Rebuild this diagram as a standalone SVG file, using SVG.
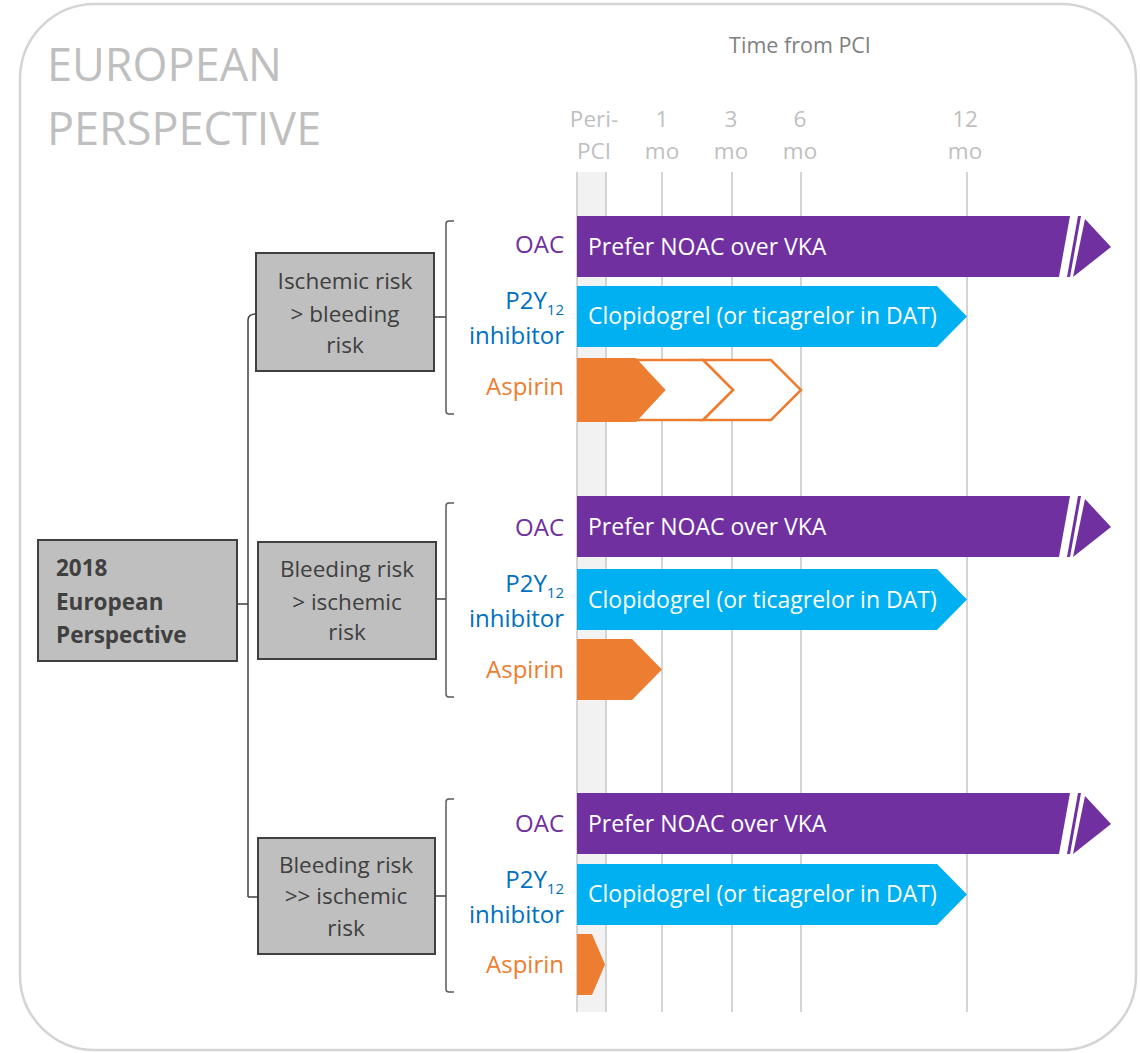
<svg xmlns="http://www.w3.org/2000/svg" width="1140" height="1053" viewBox="0 0 1140 1053">
<style>
text{font-family:"Open Sans","Liberation Sans",sans-serif}
.title{font-size:45px;fill:#bfbfbf}
.axis{font-size:22.5px;fill:#bfbfbf;text-anchor:middle}
.time{font-size:21.5px;fill:#7f7f7f;text-anchor:middle}
.grid{stroke:#c8c8c8;stroke-width:1.5;fill:none}
.box{fill:#bfbfbf;stroke:#404040;stroke-width:2}
.btxt{font-size:22.5px;fill:#404040;text-anchor:middle}
.main{font-size:22.5px;fill:#404040;font-weight:bold}
.conn{stroke:#404040;stroke-width:1.5;fill:none}
.brk{stroke:#595959;stroke-width:1.5;fill:none}
.lbl{font-size:24px;text-anchor:end}
.oac{fill:#7030A0}
.p2y{fill:#0070C0}
.asp{fill:#ED7D31}
.bartxt{font-size:23px;fill:#ffffff}
.pur{fill:#7030A0}
.blu{fill:#00B0F0}
.ora{fill:#ED7D31}
.oraline{fill:#ffffff;stroke:#ED7D31;stroke-width:2.5}
</style>
<rect x="20" y="4" width="1116" height="1046" rx="75" ry="75" fill="#ffffff" stroke="#d4d4d4" stroke-width="2.5"/>
<text class="title" x="47" y="81">EUROPEAN</text>
<text class="title" x="47" y="145">PERSPECTIVE</text>
<text class="time" x="800" y="53">Time from PCI</text>
<g id="axis">
<text class="axis" x="594" y="127">Peri-</text>
<text class="axis" x="594" y="159">PCI</text>
<text class="axis" x="662" y="127">1</text>
<text class="axis" x="662" y="159">mo</text>
<text class="axis" x="731" y="127">3</text>
<text class="axis" x="731" y="159">mo</text>
<text class="axis" x="800" y="127">6</text>
<text class="axis" x="800" y="159">mo</text>
<text class="axis" x="965" y="127">12</text>
<text class="axis" x="965" y="159">mo</text>
<rect x="577" y="172" width="29" height="840" fill="#f2f2f2"/>
<path class="grid" d="M577,172V1012M606,172V1012M662,172V1012M732,172V1012M801,172V1012M967,172V1012"/>
</g>
<g id="connectors">
<path class="conn" d="M237,604H248M248,897V320Q248,314 256,314M248,897Q248,897 258,897"/>
<path class="conn" d="M434,317H446M436,599H446M435,896H446"/>
<path class="brk" d="M454,221H449Q446,221 446,224V411Q446,414 449,414H454"/>
<path class="brk" d="M454,503H449Q446,503 446,506V694Q446,697 449,697H454"/>
<path class="brk" d="M454,799H449Q446,799 446,802V989Q446,992 449,992H454"/>
</g>
<g id="node-main">
<rect class="box" x="38" y="540" width="199" height="121"/>
<text class="main" x="56" y="576">2018</text>
<text class="main" x="56" y="610">European</text>
<text class="main" x="56" y="643">Perspective</text>
</g>
<g id="node-risk1">
<rect class="box" x="256" y="253" width="178" height="118"/>
<text class="btxt" x="345" y="289">Ischemic risk</text>
<text class="btxt" x="345" y="322">&gt; bleeding</text>
<text class="btxt" x="345" y="353">risk</text>
</g>
<g id="node-risk2">
<rect class="box" x="258" y="542" width="178" height="117"/>
<text class="btxt" x="347" y="577">Bleeding risk</text>
<text class="btxt" x="347" y="610">&gt; ischemic</text>
<text class="btxt" x="347" y="640">risk</text>
</g>
<g id="node-risk3">
<rect class="box" x="258" y="838" width="177" height="116"/>
<text class="btxt" x="346" y="873">Bleeding risk</text>
<text class="btxt" x="346" y="904">&gt;&gt; ischemic</text>
<text class="btxt" x="346" y="936">risk</text>
</g>
<g id="section1">
<text class="lbl oac" x="564" y="253">OAC</text>
<text class="lbl p2y" x="564" y="309">P2Y<tspan font-size="15" dy="6">12</tspan></text>
<text class="lbl p2y" x="564" y="344">inhibitor</text>
<text class="lbl asp" x="564" y="395">Aspirin</text>
<polygon class="pur" points="577,216 1070,216 1059,277 577,277"/>
<polygon class="pur" points="1078,216 1081,216 1070,277 1067,277"/>
<polygon class="pur" points="1085,219 1111,247 1073,277"/>
<text class="bartxt" x="588" y="255">Prefer NOAC over VKA</text>
<polygon class="blu" points="577,286 937,286 967,316.5 937,347 577,347"/>
<text class="bartxt" x="588" y="324">Clopidogrel (or ticagrelor in DAT)</text>
<polygon class="oraline" points="703,360 771,360 801,390 771,420 703,420 733,390"/>
<polygon class="oraline" points="636,360 703,360 733,390 703,420 636,420 664,390"/>
<polygon class="ora" points="577,358 636,358 664,390 636,422 577,422"/>
</g>
<g id="section2">
<text class="lbl oac" x="564" y="536">OAC</text>
<text class="lbl p2y" x="564" y="592">P2Y<tspan font-size="15" dy="6">12</tspan></text>
<text class="lbl p2y" x="564" y="627">inhibitor</text>
<text class="lbl asp" x="564" y="678">Aspirin</text>
<polygon class="pur" points="577,496 1070,496 1059,557 577,557"/>
<polygon class="pur" points="1078,496 1081,496 1070,557 1067,557"/>
<polygon class="pur" points="1085,499 1111,527 1073,557"/>
<text class="bartxt" x="588" y="535">Prefer NOAC over VKA</text>
<polygon class="blu" points="577,569 937,569 967,599.5 937,630 577,630"/>
<text class="bartxt" x="588" y="608">Clopidogrel (or ticagrelor in DAT)</text>
<polygon class="ora" points="577,639 632,639 662,669.5 632,700 577,700"/>
</g>
<g id="section3">
<text class="lbl oac" x="564" y="832">OAC</text>
<text class="lbl p2y" x="564" y="888">P2Y<tspan font-size="15" dy="6">12</tspan></text>
<text class="lbl p2y" x="564" y="923">inhibitor</text>
<text class="lbl asp" x="564" y="973">Aspirin</text>
<polygon class="pur" points="577,793 1070,793 1059,854 577,854"/>
<polygon class="pur" points="1078,793 1081,793 1070,854 1067,854"/>
<polygon class="pur" points="1085,796 1111,824 1073,854"/>
<text class="bartxt" x="588" y="832">Prefer NOAC over VKA</text>
<polygon class="blu" points="577,864 937,864 967,894.5 937,925 577,925"/>
<text class="bartxt" x="588" y="902">Clopidogrel (or ticagrelor in DAT)</text>
<polygon class="ora" points="577,934 592,934 605,964.5 592,995 577,995"/>
</g>
</svg>
